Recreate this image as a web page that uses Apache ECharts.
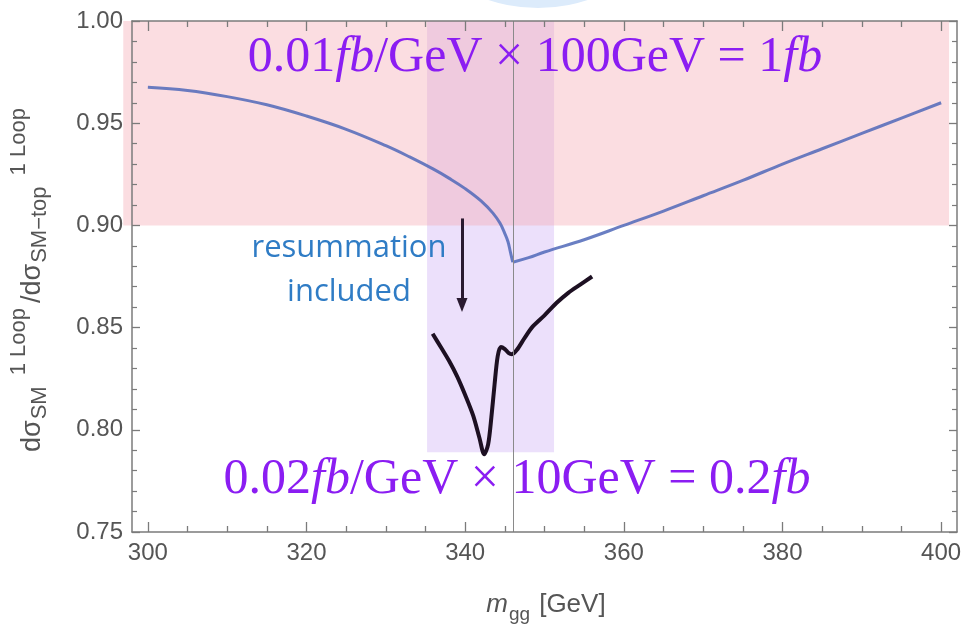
<!DOCTYPE html>
<html>
<head>
<meta charset="utf-8">
<script src="https://cdn.jsdelivr.net/npm/echarts@6/dist/echarts.min.js"></script>
<style>
  html, body { margin: 0; padding: 0; background: #ffffff; }
  #chart { width: 966px; height: 632px; }
</style>
</head>
<body>
<div id="chart"></div>
<script>
// One-loop SM cross section normalised to the top-loop-only result, as a function of m_gg.

// Fixed-order ratio (blue curve), below and above the top-pair threshold
const fixedOrderMassBelow  = [300, 305, 310, 315, 320, 325, 330, 333, 336, 338, 340, 342, 343.5, 344.4, 345, 345.4, 345.7, 346];
const fixedOrderRatioBelow = [0.9676, 0.966, 0.963, 0.959, 0.9535, 0.947, 0.939, 0.9335, 0.9275, 0.923, 0.918, 0.912, 0.906, 0.901, 0.896, 0.892, 0.887, 0.882];
const fixedOrderMassAbove  = [346, 348, 350, 355, 360, 365, 370, 375, 380, 385, 390, 395, 400];
const fixedOrderRatioAbove = [0.882, 0.8842, 0.887, 0.893, 0.900, 0.907, 0.9145, 0.922, 0.930, 0.9375, 0.945, 0.9525, 0.960];

// Ratio with threshold resummation included (black curve)
const resummedMass  = [335.9, 337, 338, 339, 340, 341, 341.8, 342.4, 342.9, 343.3, 343.7, 344.1, 344.5, 345, 345.5, 345.9,
                       346.5, 347.5, 348.5, 350, 351.5, 353, 354.5, 356];
const resummedRatio = [0.847, 0.840, 0.8335, 0.826, 0.817, 0.807, 0.796, 0.788, 0.793, 0.806, 0.822, 0.836, 0.8405, 0.8395, 0.8375, 0.837,
                       0.839, 0.845, 0.8505, 0.856, 0.862, 0.867, 0.871, 0.875];

// Top-pair threshold 2 m_t
const thresholdMass = 346;

// Shaded regions: 0.01 fb/GeV over 100 GeV (pink), 0.02 fb/GeV over 10 GeV (violet)
const pinkBandMass    = [296.9, 401.0];
const pinkBandRatio   = [0.90, 1.00];
const violetBandMass  = [335.2, 351.2];
const violetBandRatio = [0.789, 1.00];

// Arrow from the fixed-order curve down to the resummed one
const arrowMass  = 339.6;
const arrowRatio = [0.9034, 0.861];

// Axis ticks
const xMajorTicks = [300, 320, 340, 360, 380, 400];
const xMinorTicks = [305, 310, 315, 325, 330, 335, 345, 350, 355, 365, 370, 375, 385, 390, 395];
const yTickStep = 0.05;
const xRange = [298, 402];
const yRange = [0.75, 1.00];

const chart = echarts.init(document.getElementById('chart'), null, { renderer: 'canvas' });

const axisGray = '#7b7b7b';
const labelGray = '#555555';
const sansFamily = 'Liberation Sans';
const blueLine = 'rgba(80,105,185,0.85)';

const plotBox = { left: 132, right: 9, top: 21, bottom: 100 };
// The shaded bands spill slightly past the frame, so they live on a full-width companion grid
const pxPerGeV = (966 - plotBox.left - plotBox.right) / (xRange[1] - xRange[0]);
const wideRange = [xRange[0] - plotBox.left / pxPerGeV, xRange[1] + plotBox.right / pxPerGeV];

function xAxisDef(position, ticks, len, withLabels, withLine) {
  return {
    type: 'value', gridIndex: 0, position, min: xRange[0], max: xRange[1], z: 6,
    axisLine: { show: withLine, onZero: false, lineStyle: { color: axisGray, width: 1.5 } },
    splitLine: { show: false },
    axisTick: { show: true, inside: true, length: len, customValues: ticks, lineStyle: { color: axisGray, width: 1.3 } },
    axisLabel: withLabels ? {
      show: true, customValues: ticks, margin: 9, color: labelGray,
      fontFamily: sansFamily, fontSize: 24, formatter: v => String(v)
    } : { show: false }
  };
}

function yAxisDef(position, withLabels) {
  return {
    type: 'value', gridIndex: 0, position, min: yRange[0], max: yRange[1], interval: yTickStep, z: 6,
    axisLine: { show: true, onZero: false, lineStyle: { color: axisGray, width: 1.5 } },
    splitLine: { show: false },
    axisTick: { show: true, inside: true, length: 8, lineStyle: { color: axisGray, width: 1.3 } },
    minorTick: { show: true, splitNumber: 5, length: 5, lineStyle: { color: axisGray, width: 1.2 } },
    minorSplitLine: { show: false },
    axisLabel: withLabels ? {
      show: true, margin: 9, color: labelGray, fontFamily: sansFamily, fontSize: 24,
      formatter: v => v.toFixed(2)
    } : { show: false }
  };
}

// Lay out a run of text pieces with sub/superscript shifts along one baseline
const measureCtx = document.createElement('canvas').getContext('2d');
function typesetRun(parts, family, color) {
  const children = [];
  let pen = 0;
  for (const [str, size, shift, fontStyle, gap] of parts) {
    const font = `${fontStyle || 'normal'} ${size}px "${family}"`;
    measureCtx.font = font;
    children.push({
      type: 'text', x: pen, y: shift - 0.35 * size,
      style: { text: str, font, fill: color, align: 'left', verticalAlign: 'middle' }
    });
    pen += measureCtx.measureText(str).width + (gap || 0);
  }
  return { children, width: pen };
}

const yTitle = typesetRun([
  ['dσ', 27, 0, null, 1],
  ['SM', 22, 6, null, 11],
  ['1 Loop', 22, -15, null, 5],
  ['/dσ', 27, 0, null, 1],
  ['SM\u2212top', 22, 6, null, 11],
  ['1 Loop', 22, -15, null, 0]
], sansFamily, labelGray);

const xTitle = typesetRun([
  ['m', 26, 0, 'italic', 1],
  ['gg', 19, 7, null, 9],
  ['[GeV]', 26, 0, null, 0]
], sansFamily, labelGray);

const formulaRich = {
  n: { fontFamily: 'Liberation Serif', fontSize: 50, fill: '#8b1df2' },
  i: { fontFamily: 'Liberation Serif', fontSize: 50, fontStyle: 'italic', fill: '#8b1df2' }
};

function lineSeries(name, mass, ratio, z, color, width, smooth) {
  return {
    name, type: 'line', xAxisIndex: 0, yAxisIndex: 0, z,
    data: mass.map((m, i) => [m, ratio[i]]),
    showSymbol: false, smooth,
    lineStyle: { color, width }
  };
}

const fixedBelow = lineSeries('fixed order', fixedOrderMassBelow, fixedOrderRatioBelow, 3, blueLine, 3, 0.4);
fixedBelow.markLine = {
  silent: true, symbol: 'none', label: { show: false },
  lineStyle: { color: '#8a8a8a', width: 1, type: 'solid' },
  data: [{ xAxis: thresholdMass }]
};
const fixedAbove = lineSeries('fixed order', fixedOrderMassAbove, fixedOrderRatioAbove, 3, blueLine, 3, 0.4);

const resummed = lineSeries('resummed', resummedMass, resummedRatio, 4, '#1d1022', 4, 0.3);
resummed.markLine = {
  silent: true, label: { show: false }, symbolSize: [11, 14],
  lineStyle: { color: '#2a1a30', width: 3, type: 'solid' },
  data: [[
    { coord: [arrowMass, arrowRatio[0]], symbol: 'none' },
    { coord: [arrowMass, arrowRatio[1]], symbol: 'triangle' }
  ]]
};

const option = {
  animation: false,
  backgroundColor: '#ffffff',
  grid: [
    { left: plotBox.left, right: plotBox.right, top: plotBox.top, bottom: plotBox.bottom, containLabel: false },
    { left: 0, right: 0, top: plotBox.top, bottom: plotBox.bottom, containLabel: false }
  ],
  xAxis: [
    xAxisDef('bottom', xMajorTicks, 10, true, true),
    xAxisDef('top', xMajorTicks, 10, false, true),
    xAxisDef('bottom', xMinorTicks, 6, false, false),
    xAxisDef('top', xMinorTicks, 6, false, false),
    { type: 'value', gridIndex: 1, min: wideRange[0], max: wideRange[1], show: false }
  ],
  yAxis: [
    yAxisDef('left', true),
    yAxisDef('right', false),
    { type: 'value', gridIndex: 1, min: yRange[0], max: yRange[1], show: false }
  ],
  graphic: [
    { type: 'circle', shape: { cx: 538, cy: -150, r: 158 }, style: { fill: '#dcebfb' }, z: 0 },
    {
      type: 'text', x: 535, y: 58, z: 20,
      style: { text: '{n|0.01}{i|fb}{n|/GeV × 100GeV = 1}{i|fb}', rich: formulaRich, align: 'center', verticalAlign: 'middle' }
    },
    {
      type: 'text', x: 517, y: 480, z: 20,
      style: { text: '{n|0.02}{i|fb}{n|/GeV × 10GeV = 0.2}{i|fb}', rich: formulaRich, align: 'center', verticalAlign: 'middle' }
    },
    {
      type: 'text', x: 349, y: 270, z: 20,
      style: { text: 'resummation\nincluded', font: '31px "Open Sans"', lineHeight: 44, fill: '#2f7cc5', align: 'center', verticalAlign: 'middle' }
    },
    { type: 'group', x: 42, y: 452, rotation: Math.PI / 2, children: yTitle.children, z: 20 },
    { type: 'group', x: 546 - xTitle.width / 2, y: 614, children: xTitle.children, z: 20 }
  ],
  series: [
    {
      name: 'bands', type: 'line', xAxisIndex: 4, yAxisIndex: 2, data: [], silent: true, z: 1,
      markArea: {
        silent: true,
        data: [
          [{ coord: [violetBandMass[0], violetBandRatio[0]], itemStyle: { color: 'rgba(180,130,240,0.25)' } },
           { coord: [violetBandMass[1], violetBandRatio[1]] }],
          [{ coord: [pinkBandMass[0], pinkBandRatio[0]], itemStyle: { color: 'rgba(245,165,175,0.38)' } },
           { coord: [pinkBandMass[1], pinkBandRatio[1]] }]
        ]
      }
    },
    fixedBelow,
    fixedAbove,
    resummed
  ]
};

chart.setOption(option);
</script>
</body>
</html>
